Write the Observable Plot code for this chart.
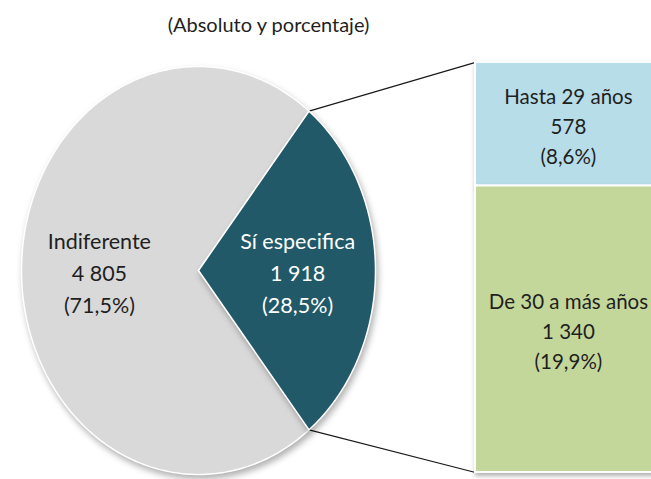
<!DOCTYPE html>
<html><head><meta charset="utf-8">
<script src="https://cdn.jsdelivr.net/npm/d3@7"></script>
<script src="https://cdn.jsdelivr.net/npm/@observablehq/plot@0.6"></script>
<style>
body{margin:0;background:#fff;font-family:Lato,"Open Sans",sans-serif;}
#title{width:537px;text-align:center;font-size:20px;line-height:24px;padding-top:12px;height:36px;color:#1f1f1f;}
</style></head><body>
<div id="title">(Absoluto y porcentaje)</div>
<div id="chart"></div>
<script>
// ---- data ----
const pieLabels = ["Indiferente", "Sí especifica"];
const pieValues = [4805, 1918];
const pieValueText = ["4 805", "1 918"];
const piePercents = ["71,5%", "28,5%"];
const barLabels = ["Hasta 29 años", "De 30 a más años"];
const barValues = [578, 1340];
const barValueText = ["578", "1 340"];
const barPercents = ["8,6%", "19,9%"];

// ---- layout (unit coordinates of the pie) ----
const pieColors = ["#d9d9d9", "#215968"];
const barColors = ["#b7dde8", "#c4d79b"];
const barX1 = 1.565, barX2 = 2.62, barTop = 1.02, barBot = -0.99;
const barLabelX = 2.09;
const labelR = 0.56;

const total = d3.sum(pieValues);
const span = pieValues[1] / total * 360;
const a0 = 90 - span / 2, a1 = 90 + span / 2;
const slices = [
  {label: pieLabels[0], start: a1, end: a0 + 360},
  {label: pieLabels[1], start: a0, end: a1}
];
const rad = a => a * Math.PI / 180;
const piePts = [];
for (const s of slices) {
  piePts.push({slice: s.label, x: 0, y: 0});
  const n = Math.ceil(Math.abs(s.end - s.start));
  for (let k = 0; k <= n; k++) {
    const a = rad(s.start + (s.end - s.start) * k / n);
    piePts.push({slice: s.label, x: Math.sin(a), y: Math.cos(a)});
  }
  piePts.push({slice: s.label, x: 0, y: 0});
}
const pieText = slices.map((s, i) => {
  const m = rad((s.start + s.end) / 2);
  return {label: s.label, x: labelR * Math.sin(m), y: labelR * Math.cos(m),
    text: `${pieLabels[i]}\n${pieValueText[i]}\n(${piePercents[i]})`};
});

const barTotal = d3.sum(barValues);
const cum = [0, ...d3.cumsum(barValues)];
const toY = v => barTop - v / barTotal * (barTop - barBot);
const bars = barLabels.map((l, i) => ({
  label: l, y1: toY(cum[i]), y2: toY(cum[i + 1]),
  ym: toY((cum[i] + cum[i + 1]) / 2),
  text: `${l}\n${barValueText[i]}\n(${barPercents[i]})`
}));
const links = [
  {x1: Math.sin(rad(a0)), y1: Math.cos(rad(a0)), x2: barX1, y2: barTop},
  {x1: Math.sin(rad(a1)), y1: Math.cos(rad(a1)), x2: barX1, y2: barBot}
];

const plot = Plot.plot({
  width: 651, height: 431,
  x: {domain: [-1, 1], range: [21, 375], axis: null},
  y: {domain: [-1, 1], range: [426, 18], axis: null},
  color: {type: "ordinal", domain: [...pieLabels, ...barLabels], range: [...pieColors, ...barColors]},
  style: {fontFamily: "Lato, 'Open Sans', sans-serif", background: "white", overflow: "hidden"},
  marks: [
    Plot.link(links, {x1: "x1", y1: "y1", x2: "x2", y2: "y2", stroke: "#1a1a1a", strokeWidth: 1.2}),
    Plot.rect(bars, {x1: barX1, x2: barX2, y1: "y1", y2: "y2", fill: "label", stroke: "white", strokeWidth: 2}),
    Plot.line(piePts, {x: "x", y: "y", z: "slice", fill: "slice", stroke: "white", strokeWidth: 1.5, curve: "linear"}),
    Plot.text(pieText.filter(d => d.label === pieLabels[0]), {x: "x", y: "y", text: "text", fill: "#1f1f1f", fontSize: 21.5, lineHeight: 1.48}),
    Plot.text(pieText.filter(d => d.label === pieLabels[1]), {x: "x", y: "y", text: "text", fill: "white", fontSize: 21.5, lineHeight: 1.48}),
    Plot.text(bars, {x: barLabelX, y: "ym", text: "text", fill: "#1f1f1f", fontSize: 20.5, lineHeight: 1.48})
  ]
});
d3.select(plot).selectAll('g[aria-label="line"] path').style("filter", "drop-shadow(2px 4px 3px rgba(0,0,0,0.3))");
d3.select(plot).selectAll('g[aria-label="rect"] rect').style("filter", "drop-shadow(1px 3px 2px rgba(0,0,0,0.3))");
document.getElementById("chart").appendChild(plot);
</script>
</body></html>
